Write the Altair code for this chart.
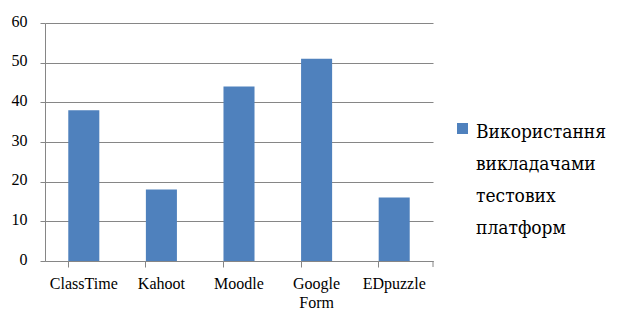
import altair as alt
import pandas as pd

categories = ["ClassTime", "Kahoot", "Moodle", "Google Form", "EDpuzzle"]
values = [38, 18, 44, 51, 16]
series_name = "Використання викладачами тестових платформ"
y_ticks = [0, 10, 20, 30, 40, 50, 60]

df = pd.DataFrame({"platform": categories, "value": values, "series": [series_name] * len(categories)})

W, H = 388, 238
GRID = "#868686"
BAR = "#4F81BD"
FONT = "Liberation Serif, serif"
LEGEND_FONT = "DejaVu Serif Condensed, DejaVu Serif, serif"

bars = alt.Chart(df).mark_bar(color=BAR).encode(
    x=alt.X("platform:N", sort=categories, title=None,
            scale=alt.Scale(paddingInner=0.6, paddingOuter=0.3),
            axis=alt.Axis(labelAngle=0, bandPosition=0, ticks=True, tickSize=6,
                          tickColor=GRID, domainColor=GRID,
                          labelFontSize=16, labelColor="#000000", labelPadding=8,
                          labelBaseline="top", labelLineHeight=19,
                          labelExpr="split(datum.label, ' ')", grid=False)),
    y=alt.Y("value:Q", title=None,
            scale=alt.Scale(domain=[0, 60], nice=False),
            axis=alt.Axis(values=y_ticks, tickSize=5, tickColor=GRID, domainColor=GRID,
                          gridColor=GRID, grid=True, labelFontSize=16,
                          labelColor="#000000", labelPadding=13, labelOffset=-2)),
    color=alt.Color("series:N", scale=alt.Scale(range=[BAR]),
                    legend=alt.Legend(orient="none", legendX=412, legendY=100,
                                      title=series_name.split(" "), titleOrient="right",
                                      titleFontSize=19, titleFontWeight="normal",
                                      titleLineHeight=32, titleColor="#000000",
                                      titleAnchor="start", titleBaseline="top",
                                      titlePadding=8, titleLimit=300,
                                      symbolType="square", symbolSize=121,
                                      symbolStrokeWidth=0, symbolOpacity=1,
                                      labelExpr="''", labelOffset=0, padding=0)),
)

end_tick = alt.Chart(pd.DataFrame({"x": [0]})).mark_rule(color=GRID).encode(
    x=alt.value(W), y=alt.value(H), y2=alt.value(H + 6)
)

chart = alt.layer(bars, end_tick).properties(
    width=W, height=H,
    autosize=alt.AutoSizeParams(type="none"),
    padding={"left": 37, "top": 15, "right": 180, "bottom": 49},
).configure_view(stroke=None).configure_axis(
    domainWidth=1, tickWidth=1, gridWidth=1, labelFont=FONT
).configure_legend(titleFont=LEGEND_FONT, labelFont=LEGEND_FONT)

chart.save("out.html", embed_options={"renderer": "svg", "actions": False})
